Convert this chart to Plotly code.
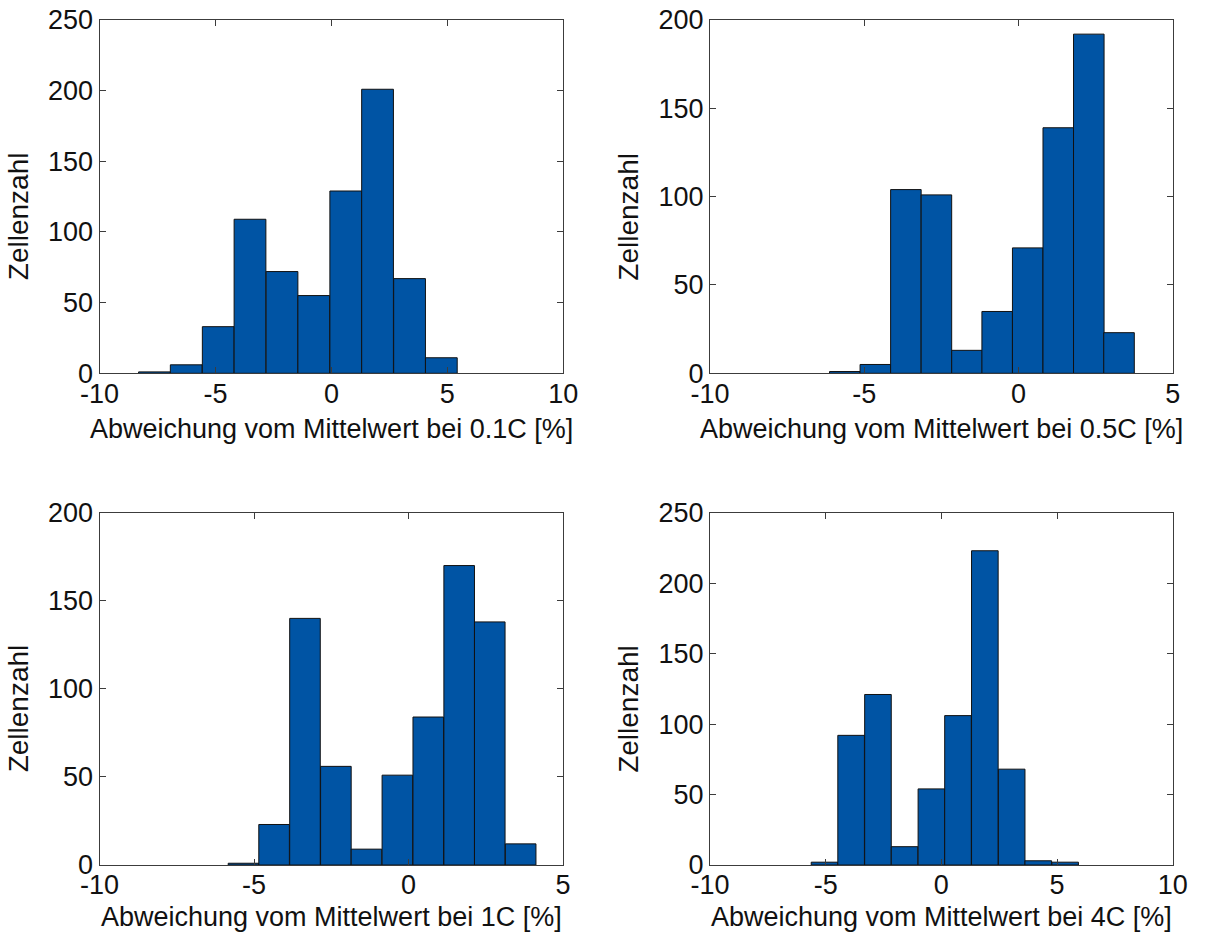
import plotly.graph_objects as go

# Histogram bins (centres, %) and cell counts per C-rate
rates = ["0.1C", "0.5C", "1C", "4C"]

centers_01c = [-7.63, -6.26, -4.88, -3.51, -2.13, -0.76, 0.62, 1.99, 3.37, 4.74]
counts_01c = [1, 6, 33, 109, 72, 55, 129, 201, 67, 11]

centers_05c = [-5.63, -4.64, -3.65, -2.66, -1.67, -0.69, 0.30, 1.29, 2.28, 3.26]
counts_05c = [1, 5, 104, 101, 13, 35, 71, 139, 192, 23]

centers_1c = [-5.34, -4.35, -3.35, -2.35, -1.36, -0.36, 0.64, 1.64, 2.63, 3.63]
counts_1c = [1, 23, 140, 56, 9, 51, 84, 170, 138, 12]

centers_4c = [-5.05, -3.90, -2.74, -1.59, -0.43, 0.72, 1.88, 3.04, 4.19, 5.35]
counts_4c = [2, 92, 121, 13, 54, 106, 223, 68, 3, 2]

x_ranges = [[-10, 10], [-10, 5], [-10, 5], [-10, 10]]
y_ranges = [[0, 250], [0, 200], [0, 200], [0, 250]]

panels = [
    (centers_01c, counts_01c),
    (centers_05c, counts_05c),
    (centers_1c, counts_1c),
    (centers_4c, counts_4c),
]

W, H = 1207, 935
# axes boxes in pixels: (left, right, top, bottom)
boxes = [
    (99.5, 563.3, 20, 373.3),
    (710, 1172.7, 20, 373.3),
    (99.5, 563.0, 512.7, 865),
    (710, 1172.7, 512.7, 865),
]
# vertical offset of each x-axis title below its axes
title_offsets = [56, 56, 52, 52]

BAR = "#0054a4"
FRAME = "#3c3c3c"
TXT = "#111111"
FONT = "Liberation Sans, Arial, sans-serif"


def tick_list(lo, hi, step):
    vals = list(range(lo, hi + 1, step))
    # plain hyphen-minus for negative labels
    return vals, [str(v) for v in vals]


fig = go.Figure()
layout = dict(
    width=W, height=H,
    margin=dict(l=0, r=0, t=0, b=0),
    paper_bgcolor="white", plot_bgcolor="white",
    showlegend=False,
    font=dict(family=FONT, size=27, color=TXT),
    annotations=[],
)

for i, ((cx, cnt), xr, yr, (l, r, t, b), rate, off) in enumerate(
        zip(panels, x_ranges, y_ranges, boxes, rates, title_offsets)):
    k = "" if i == 0 else str(i + 1)
    width = cx[1] - cx[0]
    fig.add_trace(go.Bar(
        x=cx, y=cnt, width=width,
        marker=dict(color=BAR, line=dict(color=TXT, width=1)),
        xaxis="x" + k, yaxis="y" + k,
    ))
    axis_common = dict(
        showline=True, mirror="ticks", linecolor=FRAME, linewidth=1,
        ticks="inside", ticklen=6, tickwidth=1, tickcolor=FRAME,
        showgrid=False, zeroline=False, automargin=False,
        tickfont=dict(family=FONT, size=27, color=TXT),
    )
    xv, xt = tick_list(xr[0], xr[1], 5)
    yv, yt = tick_list(yr[0], yr[1], 50)
    layout["xaxis" + k] = dict(
        axis_common,
        domain=[l / W, r / W], range=xr,
        tickmode="array", tickvals=xv, ticktext=xt,
        ticklabelstandoff=-4,
        anchor="y" + k,
    )
    layout["yaxis" + k] = dict(
        axis_common,
        domain=[1 - b / H, 1 - t / H], range=yr,
        tickmode="array", tickvals=yv, ticktext=yt,
        ticklabelstandoff=0,
        anchor="x" + k,
    )
    # x-axis title
    layout["annotations"].append(dict(
        text=f"Abweichung vom Mittelwert bei {rate} [%]",
        xref="paper", yref="paper",
        x=(l + r) / 2 / W, y=1 - (b + off) / H,
        xanchor="center", yanchor="middle", showarrow=False,
        font=dict(family=FONT, size=27, color=TXT),
    ))
    # y-axis title
    layout["annotations"].append(dict(
        text="Zellenzahl",
        xref="paper", yref="paper",
        x=(l - 81) / W, y=1 - ((t + b) / 2 + 20) / H,
        xanchor="center", yanchor="middle", showarrow=False, textangle=-90,
        font=dict(family=FONT, size=28, color=TXT),
    ))

fig.update_layout(**layout)
fig.write_html("out.html")
